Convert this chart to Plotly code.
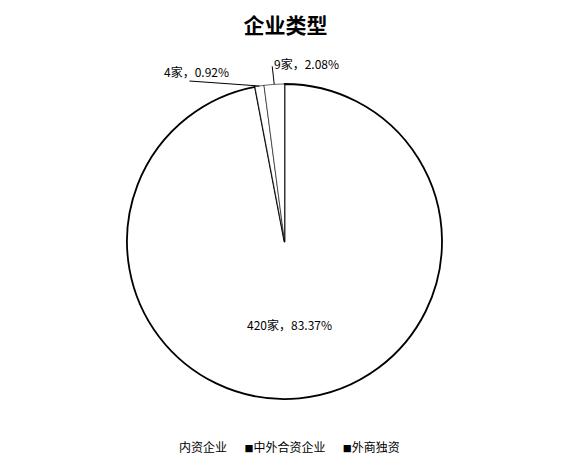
import math
import plotly.graph_objects as go

categories = ["内资企业", "中外合资企业", "外商独资"]
values = [420, 4, 9]
label_texts = ["420家，83.37%", "4家，0.92%", "9家，2.08%"]
legend_marker_colors = ["#ffffff", "#000000", "#000000"]

FONT = "Noto Sans CJK SC"
W, H = 577, 470
M = dict(l=0, r=8, t=84, b=71)
PW, PH = W - M["l"] - M["r"], H - M["t"] - M["b"]
R = min(PW, PH) / 2.0

fig = go.Figure()
fig.add_trace(go.Pie(
    labels=categories,
    values=values,
    textinfo="none",
    sort=False,
    direction="clockwise",
    rotation=0,
    marker=dict(colors=["#ffffff"] * 3, line=dict(color="#000000", width=[1.8, 0.6, 0.6])),
    showlegend=False,
    hoverinfo="label+value",
))

# slice mid angles (clockwise from 12 o'clock)
total = float(sum(values))
mids = []
acc = 0.0
for v in values:
    mids.append((acc + v / 2.0) / total * 2 * math.pi)
    acc += v


def pt(angle, frac):
    return (0.5 + frac * R * math.sin(angle) / PW, 0.5 + frac * R * math.cos(angle) / PH)


# label layout: (radius fraction, text shift x, text shift y, leader tail dx, leader tail dy)
label_layout = [
    (0.53, -3, 0, None, None),
    (1.0, -63, 15, -70, 5),
    (1.0, 32, 21, -2, 18),
]
annotations = []
shapes = []
for txt, a, (frac, sx, sy, tx, ty) in zip(label_texts, mids, label_layout):
    px, py = pt(a, frac)
    annotations.append(dict(
        x=px, y=py, xref="paper", yref="paper", text=txt, showarrow=False,
        xanchor="center", yanchor="middle",
        xshift=sx, yshift=sy, font=dict(family=FONT, size=12, color="#000000"),
    ))
    if tx is not None:
        shapes.append(dict(
            type="line", xref="paper", yref="paper", xsizemode="pixel", ysizemode="pixel",
            xanchor=px, yanchor=py, x0=0, y0=0, x1=tx, y1=ty,
            line=dict(color="#000000", width=1),
        ))

# legend row as text
parts = []
for name, col in zip(categories, legend_marker_colors):
    parts.append("<span style='color:%s;font-size:9px'>■</span><span style='color:#000000'>%s</span>"
                 % (col, name))
legend_text = "\u3000\u00a0\u00a0".join(parts)
annotations.append(dict(
    x=0.5, y=-(447 - (H - M["b"])) / PH, xref="paper", yref="paper", xanchor="center",
    yanchor="middle", text=legend_text, showarrow=False,
    font=dict(family=FONT, size=12, color="#000000"),
))

fig.update_layout(
    width=W, height=H,
    paper_bgcolor="#ffffff", plot_bgcolor="#ffffff",
    margin=M,
    title=dict(text="<b>企业类型</b>", x=0.495, xanchor="center", y=1 - 26 / H, yanchor="middle",
               font=dict(family=FONT, size=21, color="#000000")),
    annotations=annotations,
    shapes=shapes,
    font=dict(family=FONT),
)

fig.write_html("out.html")
